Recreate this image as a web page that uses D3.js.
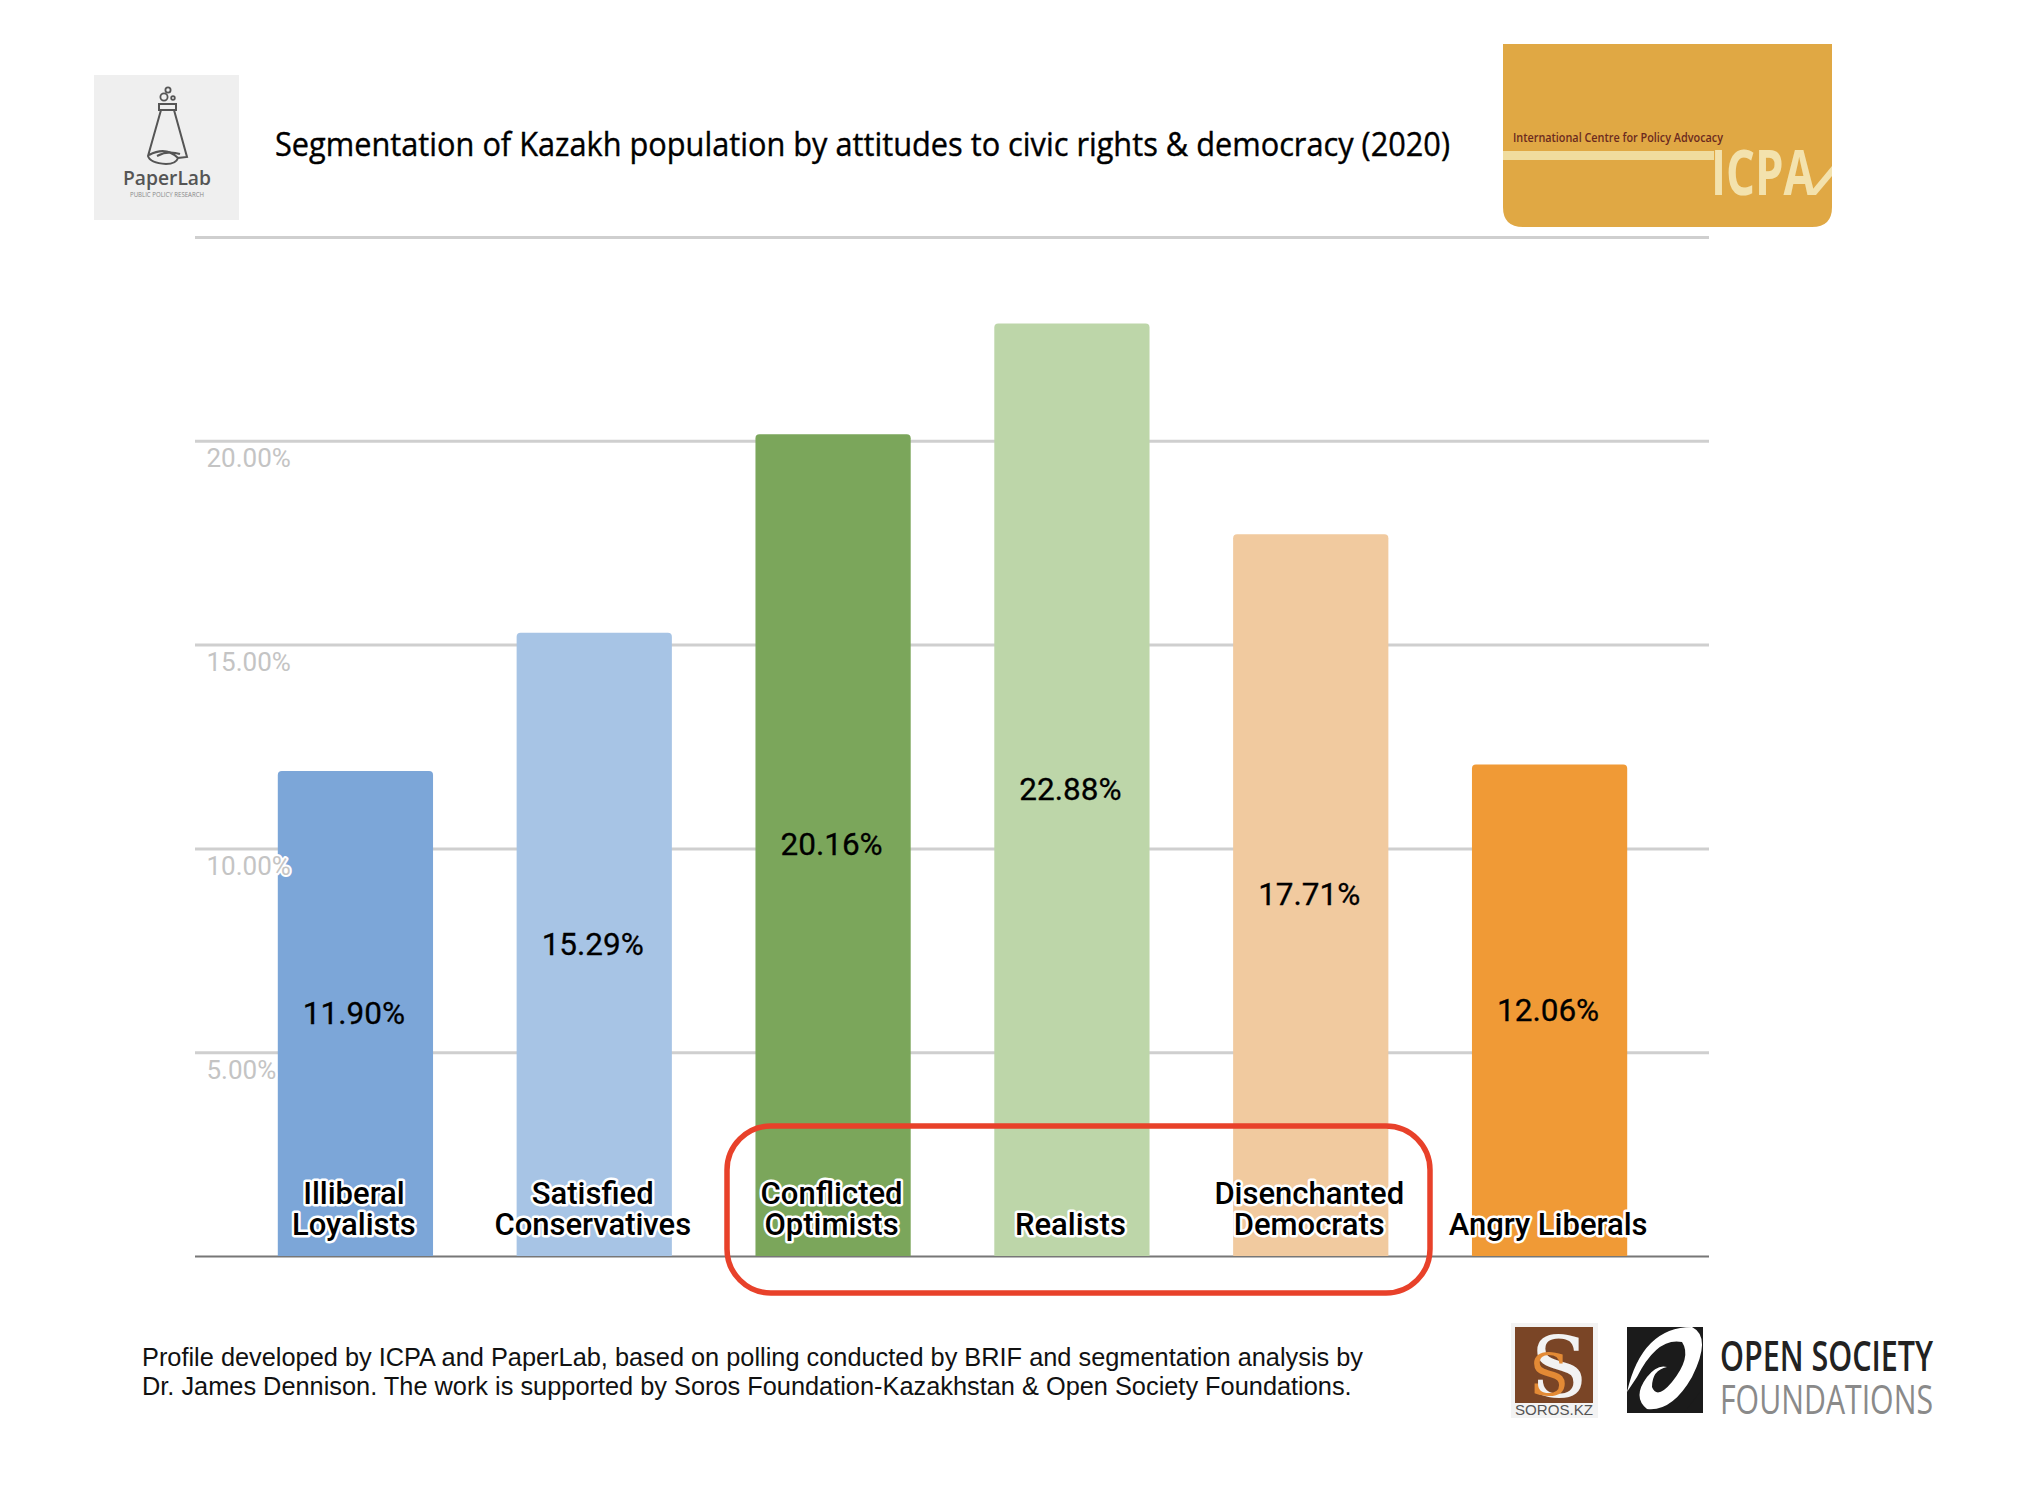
<!DOCTYPE html>
<html><head><meta charset="utf-8">
<script src="https://cdn.jsdelivr.net/npm/d3@7"></script>
<style>html,body{margin:0;padding:0;background:#fff}svg{display:block}</style>
</head><body><svg id="c" width="2038" height="1502"></svg>
<script>
const categories = [["Illiberal","Loyalists"],["Satisfied","Conservatives"],["Conflicted","Optimists"],["Realists"],["Disenchanted","Democrats"],["Angry Liberals"]];
const values = [11.90,15.29,20.16,22.88,17.71,12.06];
const colors = ["#7ca6d8","#a7c4e5","#7ba65b","#bdd6a9","#f1ca9f","#f09a36"];
const gridValues = [0,5,10,15,20,25];
const labelledTicks = [5,10,15,20];
const titleText = "Segmentation of Kazakh population by attitudes to civic rights & democracy (2020)";
const footerLines = ["Profile developed by ICPA and PaperLab, based on polling conducted by BRIF and segmentation analysis by","Dr. James Dennison. The work is supported by Soros Foundation-Kazakhstan & Open Society Foundations."];

const svg = d3.select("#c");
const x = d3.scaleBand().domain(d3.range(values.length)).range([236,1669]).paddingInner(0.35).paddingOuter(0.175);
const y = d3.scaleLinear().domain([0,25]).range([1256,237]);
const gridLeft = 195, gridRight = 1709;

// gridlines
const grid = svg.append("g").attr("transform",`translate(${gridLeft},0)`)
  .call(d3.axisRight(y).tickValues(gridValues).tickSize(gridRight-gridLeft).tickFormat(""));
grid.select(".domain").remove();
grid.selectAll("line").attr("stroke",d=>d===0?"#777":"#cfcfcf").attr("stroke-width",d=>d===0?2:3);

// bars
const rtop = (bx,by,w,h,r)=>`M${bx},${by+h}V${by+r}Q${bx},${by} ${bx+r},${by}H${bx+w-r}Q${bx+w},${by} ${bx+w},${by+r}V${by+h}Z`;
svg.append("g").selectAll("path").data(values).join("path")
  .attr("d",(d,i)=>rtop(x(i),y(d),x.bandwidth(),y(0)-y(d),4))
  .attr("fill",(d,i)=>colors[i]);

// y tick labels (over bars with white halo)
const tl = svg.append("g").attr("transform","translate(206.5,0)")
  .call(d3.axisRight(y).tickValues(labelledTicks).tickSize(0).tickPadding(0).tickFormat(d=>d3.format(".2f")(d)+"%"));
tl.select(".domain").remove();
tl.selectAll("text").attr("dy",null).attr("y",26).attr("font-family","Roboto").attr("font-size",26)
  .attr("fill","#c4c4c4").attr("stroke","#fff").attr("stroke-width",4).attr("paint-order","stroke").attr("stroke-linejoin","round");

// value labels
svg.append("g").selectAll("text").data(values).join("text")
  .attr("x",(d,i)=>x(i)+x.bandwidth()/2-1.5).attr("y",d=>(y(d)+y(0))/2-1)
  .attr("dy","0.36em").attr("text-anchor","middle").attr("font-family","Roboto").attr("font-size",31.5).attr("fill","#000")
  .attr("stroke","#000").attr("stroke-width",0.3)
  .text(d=>d3.format(".2f")(d)+"%");

// category labels
const lineH = 31.5, lastBase = 1235;
const cat = svg.append("g").selectAll("text").data(categories).join("text")
  .attr("text-anchor","middle").attr("font-family","Roboto").attr("font-size",31).attr("font-weight",500).attr("fill","#000")
  .attr("stroke","#fff").attr("stroke-width",5).attr("paint-order","stroke").attr("stroke-linejoin","round");
cat.selectAll("tspan").data((d,i)=>d.map((t,j)=>({t,i,j,n:d.length}))).join("tspan")
  .attr("x",d=>x(d.i)+x.bandwidth()/2-1.5).attr("y",d=>lastBase-(d.n-1-d.j)*lineH).text(d=>d.t);

// highlight box
svg.append("rect").attr("x",727).attr("y",1126).attr("width",703).attr("height",167).attr("rx",44)
  .attr("fill","none").attr("stroke","#e8412a").attr("stroke-width",5.5);

// title + footer
svg.append("text").attr("x",275).attr("y",156).attr("font-family","Open Sans").attr("font-size",33).attr("fill","#000")
  .attr("stroke","#000").attr("stroke-width",0.4)
  .attr("textLength",1175).attr("lengthAdjust","spacingAndGlyphs").text(titleText);
svg.append("g").selectAll("text").data(footerLines).join("text")
  .attr("x",142).attr("y",(d,i)=>1366+i*29).attr("font-family","Liberation Sans").attr("font-size",25.35).attr("fill","#111").text(d=>d);

// PaperLab logo
const pl = svg.append("g");
pl.append("rect").attr("x",94).attr("y",75).attr("width",145).attr("height",145).attr("fill","#efefef");
pl.append("path").attr("d","M161,110 L148,156 Q150,163 166,164 Q176,164 178,158 L187,157 L174,110 Z M159,104 H176 V110 H159 Z M149,155 Q166,146 178,158 M157,156 Q168,150 180,154")
  .attr("fill","none").attr("stroke","#555").attr("stroke-width",2);
[[168,90,2.6],[164,97,3.6],[173,98,1.8]].forEach(c=>pl.append("circle").attr("cx",c[0]).attr("cy",c[1]).attr("r",c[2]).attr("fill","none").attr("stroke","#555").attr("stroke-width",1.8));
pl.append("text").attr("x",167).attr("y",185).attr("text-anchor","middle").attr("font-family","Open Sans").attr("font-size",20).attr("fill","#555").attr("font-weight",600)
  .attr("textLength",88).attr("lengthAdjust","spacingAndGlyphs").text("PaperLab");
pl.append("text").attr("x",167).attr("y",197).attr("text-anchor","middle").attr("font-family","Open Sans").attr("font-size",6.5).attr("fill","#888")
  .attr("textLength",74).attr("lengthAdjust","spacingAndGlyphs").text("PUBLIC POLICY RESEARCH");

// ICPA logo
const ic = svg.append("g");
ic.append("path").attr("d","M1503,44 H1832 V207 Q1832,227 1812,227 H1523 Q1503,227 1503,207 Z").attr("fill","#e0a844");
ic.append("text").attr("x",1513).attr("y",142).attr("font-family","Open Sans").attr("font-size",12.5).attr("font-weight",600).attr("fill","#6b2a1f")
  .attr("textLength",210).attr("lengthAdjust","spacingAndGlyphs").text("International Centre for Policy Advocacy");
ic.append("rect").attr("x",1503).attr("y",151).attr("width",211).attr("height",9).attr("fill","#f0dc9e");
ic.append("text").attr("x",1711).attr("y",195).attr("font-family","Open Sans").attr("font-size",62).attr("font-weight",700).attr("fill","#f3e2ad")
  .attr("textLength",104).attr("lengthAdjust","spacingAndGlyphs").text("ICPA");
ic.append("path").attr("d","M1808,195 L1832,166 V176 L1816,195 Z").attr("fill","#f3e2ad");

// Soros logo
const so = svg.append("g");
so.append("rect").attr("x",1511).attr("y",1323).attr("width",87).attr("height",95).attr("fill","#f3f3f3");
so.append("rect").attr("x",1515).attr("y",1327).attr("width",78).attr("height",76).attr("fill","#7a4526");
so.append("text").attr("x",1559).attr("y",1397).attr("text-anchor","middle").attr("font-family","DejaVu Serif").attr("font-size",84).attr("fill","#f2f2f2").text("S");
so.append("text").attr("x",1549).attr("y",1395).attr("text-anchor","middle").attr("font-family","DejaVu Serif").attr("font-size",58).attr("fill","#e38a35").text("S");
so.append("text").attr("x",1554).attr("y",1415).attr("text-anchor","middle").attr("font-family","Liberation Sans").attr("font-size",14).attr("fill","#555")
  .attr("textLength",78).attr("lengthAdjust","spacingAndGlyphs").text("SOROS.KZ");

// OSF logo
const os = svg.append("g");
os.append("rect").attr("x",1627).attr("y",1327).attr("width",76).attr("height",86).attr("fill","#1b1b1b");
os.append("path").attr("d","M1627,1392 Q1642,1327 1692,1327 Q1712,1337 1692,1377 Q1672,1412 1647,1409 Q1632,1397 1647,1377 Q1657,1364 1667,1367 Q1652,1370 1652,1387 Q1657,1400 1672,1382 Q1692,1357 1682,1342 Q1657,1337 1637,1377 Z").attr("fill","#fff");
os.append("path").attr("d","M1684,1413 L1703,1388 V1413 Z").attr("fill","#1b1b1b");
os.append("text").attr("x",1720).attr("y",1371).attr("font-family","Open Sans").attr("font-size",42).attr("font-weight",600).attr("fill","#222")
  .attr("textLength",213).attr("lengthAdjust","spacingAndGlyphs").text("OPEN SOCIETY");
os.append("text").attr("x",1720).attr("y",1414).attr("font-family","Open Sans").attr("font-size",40).attr("fill","#8a8a8a")
  .attr("textLength",213).attr("lengthAdjust","spacingAndGlyphs").text("FOUNDATIONS");
</script></body></html>
